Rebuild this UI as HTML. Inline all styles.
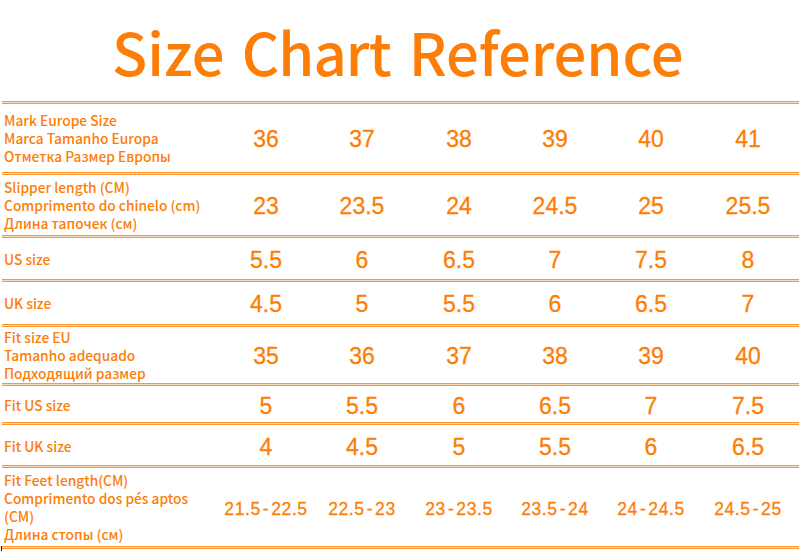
<!DOCTYPE html>
<html lang="en">
<head>
<meta charset="utf-8">
<title>Size Chart Reference</title>
<style>
html,body{margin:0;padding:0;background:#fff;}
body{width:799px;height:551px;position:relative;overflow:hidden;color:#fd7e06;
  font-family:"Noto Sans CJK SC","Liberation Sans",sans-serif;}
h1{position:absolute;left:-1px;top:11px;width:799px;margin:0;text-align:center;
  font-family:"Noto Sans CJK SC","Liberation Sans",sans-serif;font-weight:500;font-size:58px;line-height:80px;word-spacing:2.5px;
  white-space:nowrap;color:#fd7e06;}
.w2{letter-spacing:-.9px;margin-left:1.5px;margin-right:3px}
.w3{letter-spacing:-.12px;margin-left:-.5px;margin-right:1.5px}
.ln{position:absolute;left:2px;right:0;height:1px;border-top:1px solid #ff9632;border-bottom:1px solid #ff9632;background:#ffdcb8;}
.row{position:absolute;left:0;width:799px;}
.lab{position:absolute;left:4px;top:0;height:100%;width:212px;display:flex;align-items:center;
  font-size:13.75px;line-height:18px;font-weight:500;white-space:nowrap;}
.c{position:absolute;top:0;height:100%;width:96px;display:flex;align-items:center;justify-content:center;
  font-family:"Liberation Sans",sans-serif;font-size:23px;white-space:nowrap;padding-top:3px;box-sizing:border-box;-webkit-text-stroke:.3px #fd7e06;}
.c1{left:218px}.c2{left:314px}.c3{left:411px}.c4{left:507px}.c5{left:603px}.c6{left:700px}
.sm .c{font-size:17.5px;letter-spacing:.6px;padding-top:4px}
.sm .c i{font-style:normal;margin:0 2px}
.mark{position:absolute;left:1px;top:546px;width:1px;height:5px;background:#111;}
</style>
</head>
<body>
<h1>Size <span class="w2">Chart</span> <span class="w3">Reference</span></h1>

<div class="ln" style="top:101px"></div>
<div class="row" style="top:104px;height:68px">
  <div class="lab"><div>Mark Europe Size<br>Marca Tamanho Europa<br>Отметка Размер Европы</div></div>
  <div class="c c1">36</div><div class="c c2">37</div><div class="c c3">38</div><div class="c c4">39</div><div class="c c5">40</div><div class="c c6">41</div>
</div>

<div class="ln" style="top:172px"></div>
<div class="row" style="top:175px;height:60px">
  <div class="lab"><div>Slipper length (CM)<br>Comprimento do chinelo (cm)<br>Длина тапочек (см)</div></div>
  <div class="c c1">23</div><div class="c c2">23.5</div><div class="c c3">24</div><div class="c c4">24.5</div><div class="c c5">25</div><div class="c c6">25.5</div>
</div>

<div class="ln" style="top:235px"></div>
<div class="row" style="top:238px;height:41px">
  <div class="lab"><div>US size</div></div>
  <div class="c c1">5.5</div><div class="c c2">6</div><div class="c c3">6.5</div><div class="c c4">7</div><div class="c c5">7.5</div><div class="c c6">8</div>
</div>

<div class="ln" style="top:279px"></div>
<div class="row" style="top:282px;height:42px">
  <div class="lab"><div>UK size</div></div>
  <div class="c c1">4.5</div><div class="c c2">5</div><div class="c c3">5.5</div><div class="c c4">6</div><div class="c c5">6.5</div><div class="c c6">7</div>
</div>

<div class="ln" style="top:324px"></div>
<div class="row" style="top:327px;height:56px">
  <div class="lab"><div>Fit size EU<br>Tamanho adequado<br>Подходящий размер</div></div>
  <div class="c c1">35</div><div class="c c2">36</div><div class="c c3">37</div><div class="c c4">38</div><div class="c c5">39</div><div class="c c6">40</div>
</div>

<div class="ln" style="top:383px"></div>
<div class="row" style="top:387px;height:36px">
  <div class="lab"><div>Fit US size</div></div>
  <div class="c c1">5</div><div class="c c2">5.5</div><div class="c c3">6</div><div class="c c4">6.5</div><div class="c c5">7</div><div class="c c6">7.5</div>
</div>

<div class="ln" style="top:422px"></div>
<div class="row" style="top:426px;height:40px">
  <div class="lab"><div>Fit UK size</div></div>
  <div class="c c1">4</div><div class="c c2">4.5</div><div class="c c3">5</div><div class="c c4">5.5</div><div class="c c5">6</div><div class="c c6">6.5</div>
</div>

<div class="ln" style="top:465px"></div>
<div class="row sm" style="top:468px;height:78px">
  <div class="lab"><div>Fit Feet length(CM)<br>Comprimento dos pés aptos<br>(CM)<br>Длина стопы (см)</div></div>
  <div class="c c1">21.5<i>-</i>22.5</div><div class="c c2">22.5<i>-</i>23</div><div class="c c3">23<i>-</i>23.5</div><div class="c c4">23.5<i>-</i>24</div><div class="c c5">24<i>-</i>24.5</div><div class="c c6">24.5<i>-</i>25</div>
</div>

<div class="ln" style="top:546px"></div>
<div class="mark"></div>
</body>
</html>
